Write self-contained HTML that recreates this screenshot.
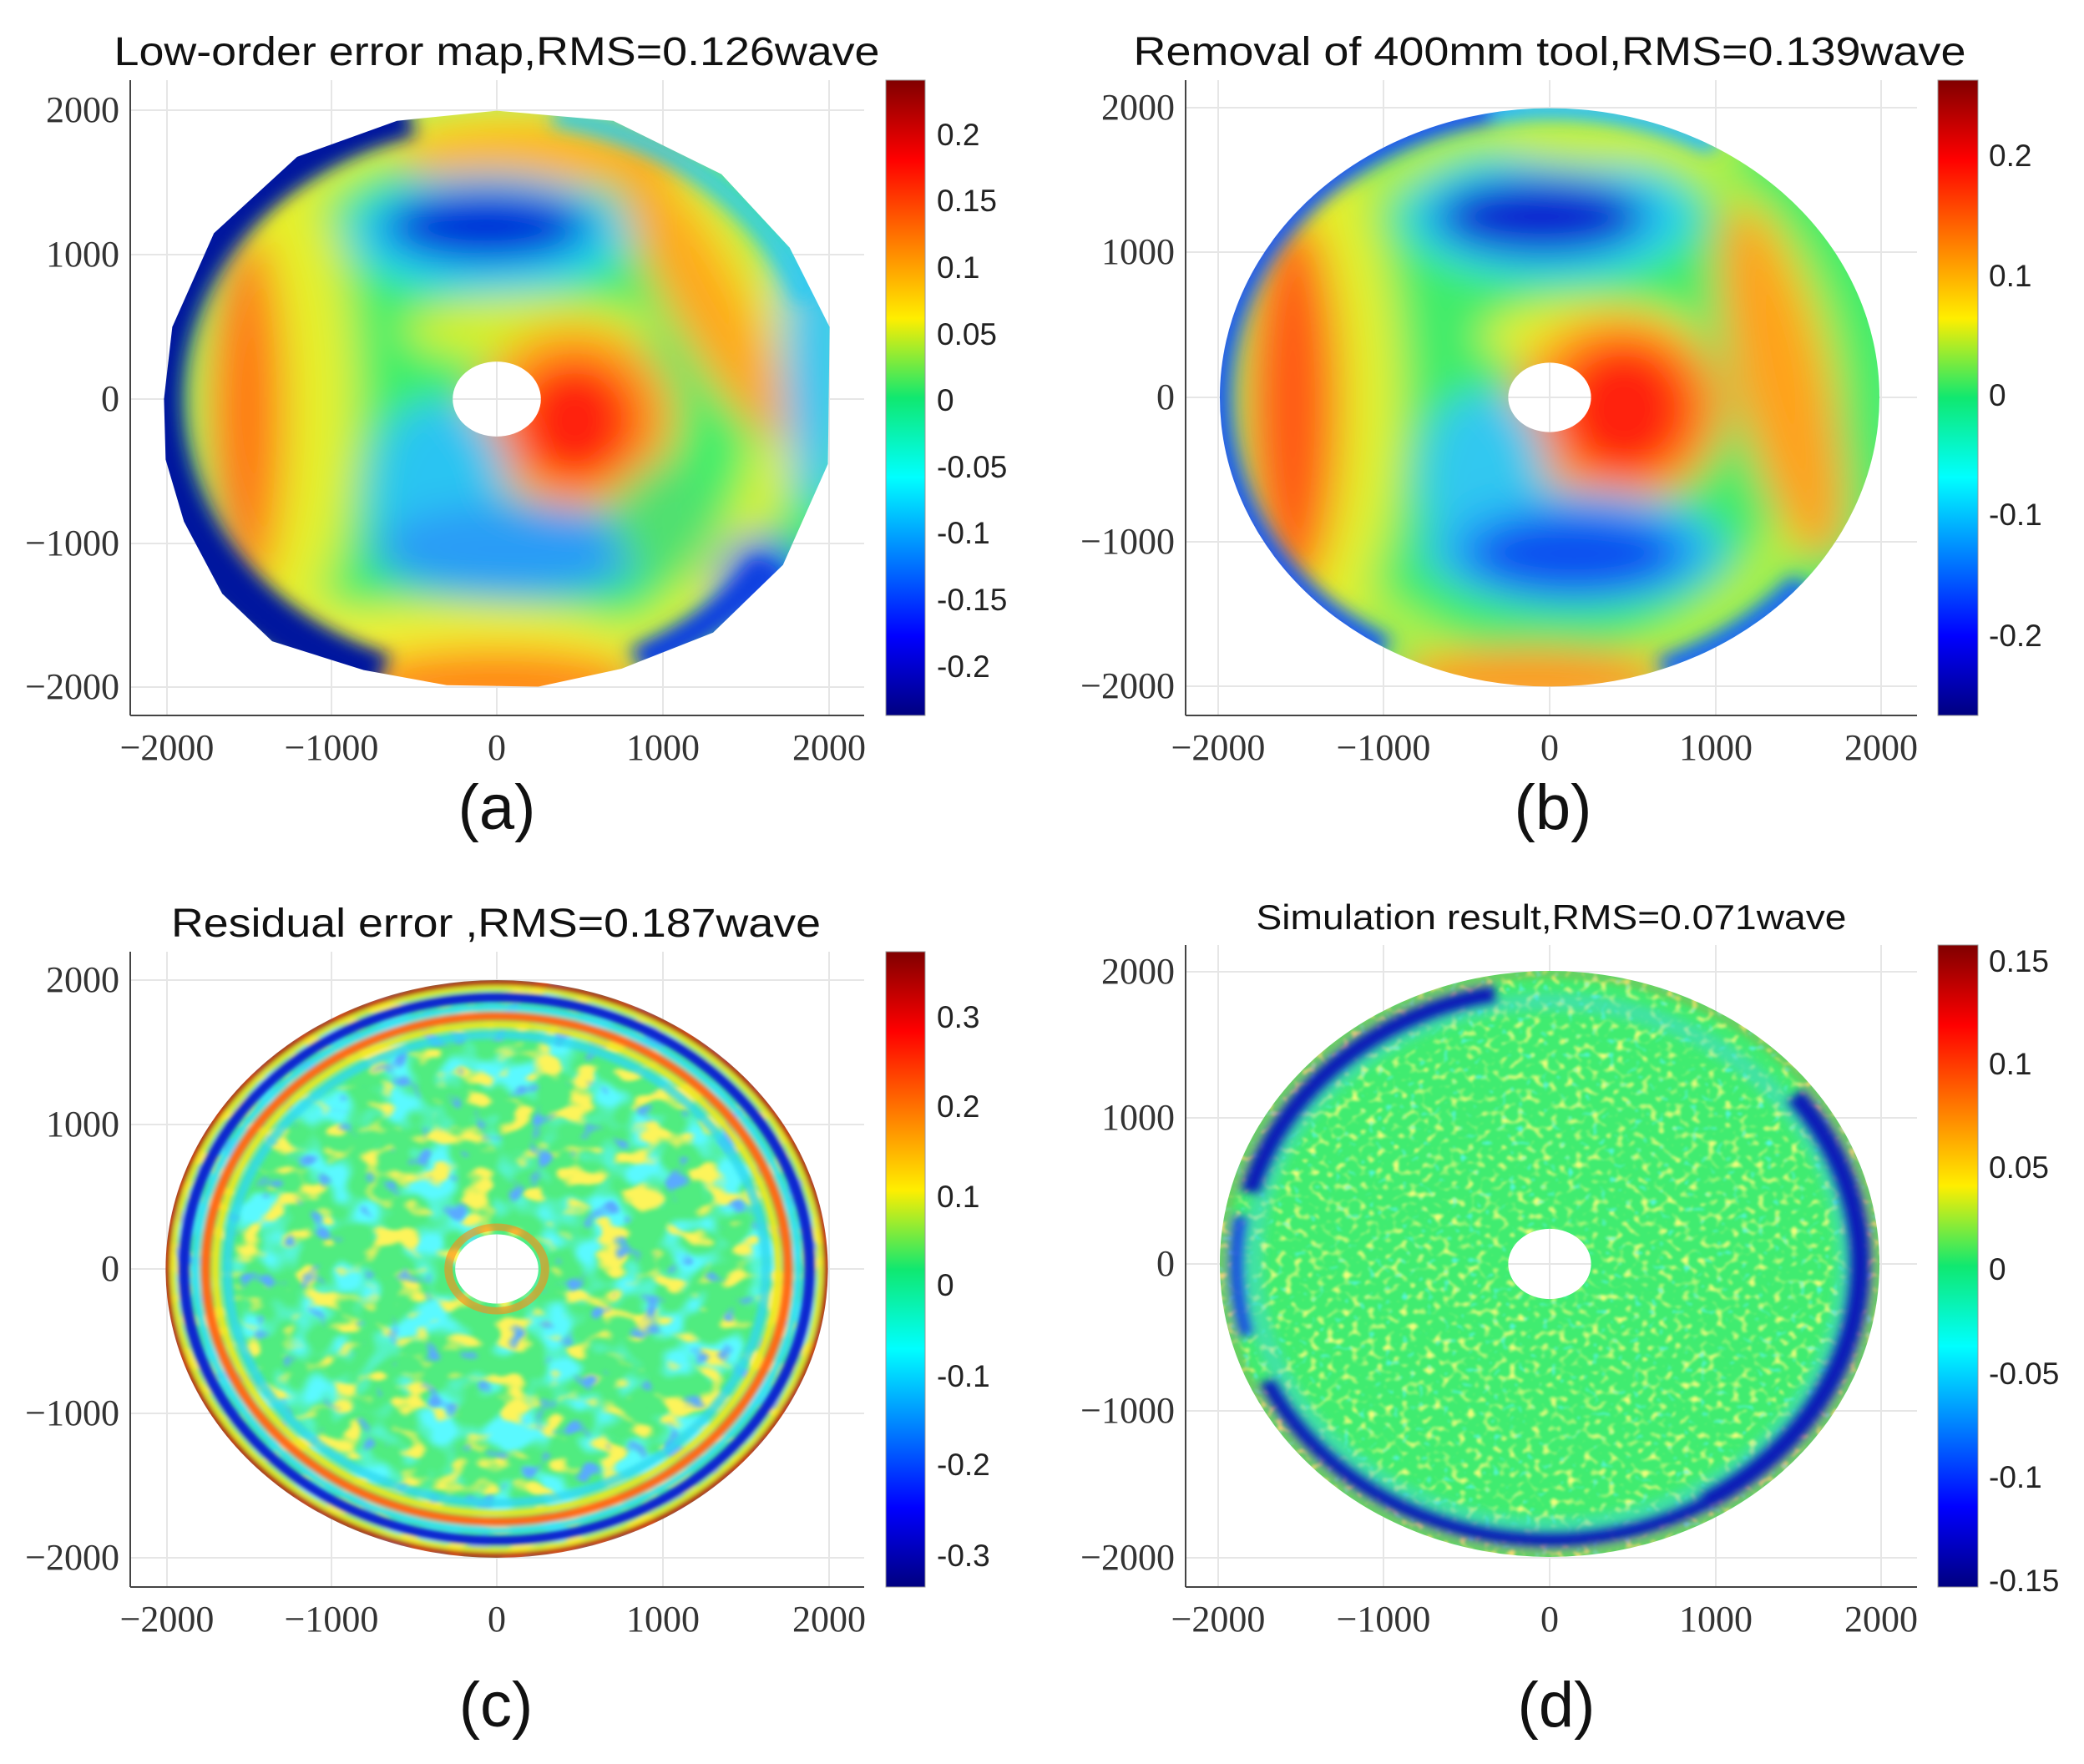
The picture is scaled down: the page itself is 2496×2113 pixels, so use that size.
<!DOCTYPE html>
<html><head><meta charset="utf-8"><style>
html,body{margin:0;padding:0;background:#fff;}
svg{display:block;}
.tk{font-family:"Liberation Serif",serif;font-size:44px;fill:#333;}
.cb{font-family:"Liberation Sans",sans-serif;font-size:37px;fill:#222;}
.tt{font-family:"Liberation Sans",sans-serif;font-size:48px;fill:#111;}
.lb{font-family:"Liberation Sans",sans-serif;font-size:76px;fill:#111;}
</style></head><body>
<svg width="2496" height="2113" viewBox="0 0 2496 2113" xmlns="http://www.w3.org/2000/svg">
<defs>
<linearGradient id="jet" x1="0" y1="0" x2="0" y2="1">
<stop offset="0" stop-color="#800000"/><stop offset="0.125" stop-color="#ff0000"/>
<stop offset="0.375" stop-color="#ffee00"/><stop offset="0.5" stop-color="#10e870"/>
<stop offset="0.625" stop-color="#00ffff"/><stop offset="0.875" stop-color="#0000ff"/>
<stop offset="1" stop-color="#000080"/></linearGradient>
<filter id="bl" filterUnits="userSpaceOnUse" x="-2600" y="-2600" width="5200" height="5200"><feGaussianBlur stdDeviation="130"/></filter>
<filter id="bl3" filterUnits="userSpaceOnUse" x="-2600" y="-2600" width="5200" height="5200"><feGaussianBlur stdDeviation="55"/></filter>
<filter id="bl2" filterUnits="userSpaceOnUse" x="-2600" y="-2600" width="5200" height="5200"><feGaussianBlur stdDeviation="15"/></filter>
<filter id="bl4" filterUnits="userSpaceOnUse" x="-2600" y="-2600" width="5200" height="5200"><feGaussianBlur stdDeviation="30"/></filter>
<filter id="nzY" filterUnits="userSpaceOnUse" x="-2100" y="-2100" width="4200" height="4200">
<feTurbulence type="fractalNoise" baseFrequency="0.005 0.007" numOctaves="2" seed="4"/>
<feColorMatrix type="matrix" values="0 0 0 0 0.98  0 0 0 0 0.9  0 0 0 0 0.1  7 0 0 0 -3.8"/>
<feGaussianBlur stdDeviation="12"/></filter>
<filter id="nzB" filterUnits="userSpaceOnUse" x="-2100" y="-2100" width="4200" height="4200">
<feTurbulence type="fractalNoise" baseFrequency="0.006" numOctaves="2" seed="11"/>
<feColorMatrix type="matrix" values="0 0 0 0 0.1  0 0 0 0 0.4  0 0 0 0 1  0 7 0 0 -4.4"/>
<feGaussianBlur stdDeviation="12"/></filter>
<filter id="nzC" filterUnits="userSpaceOnUse" x="-2100" y="-2100" width="4200" height="4200">
<feTurbulence type="fractalNoise" baseFrequency="0.004" numOctaves="2" seed="21"/>
<feColorMatrix type="matrix" values="0 0 0 0 0.1  0 0 0 0 0.95  0 0 0 0 1  0 0 5 0 -2.4"/>
<feGaussianBlur stdDeviation="15"/></filter>
<filter id="nzD" filterUnits="userSpaceOnUse" x="-2100" y="-2100" width="4200" height="4200">
<feTurbulence type="fractalNoise" baseFrequency="0.02" numOctaves="1" seed="7"/>
<feColorMatrix type="matrix" values="0 0 0 0 0.85  0 0 0 0 1  0 0 0 0 0.2  4 0 0 0 -2.1"/>
<feGaussianBlur stdDeviation="6"/></filter>
<filter id="nzE" filterUnits="userSpaceOnUse" x="-2100" y="-2100" width="4200" height="4200">
<feTurbulence type="fractalNoise" baseFrequency="0.02" numOctaves="1" seed="17"/>
<feColorMatrix type="matrix" values="0 0 0 0 0.1  0 0 0 0 0.95  0 0 0 0 0.9  0 4 0 0 -2.5"/>
<feGaussianBlur stdDeviation="6"/></filter>
<mask id="mA" maskUnits="userSpaceOnUse" x="-2200" y="-2200" width="4400" height="4400">
<polygon fill="#fff" points="-2000,0 -1990,-420 -1880,-850 -1650,-1350 -1350,-1680 -800,-1880 -300,-1985 250,-1995 750,-1870 1300,-1620 1720,-1150 1990,-450 2000,500 1760,1050 1350,1560 700,1930 0,2000 -600,1930 -1200,1680 -1700,1150 -1950,500"/>
<ellipse cx="0" cy="0" rx="265" ry="260" fill="#000"/></mask>
<mask id="mC" maskUnits="userSpaceOnUse" x="-2200" y="-2200" width="4400" height="4400">
<ellipse cx="0" cy="0" rx="1990" ry="2000" fill="#fff"/><ellipse cx="0" cy="0" rx="250" ry="240" fill="#000"/></mask>
</defs>
<rect width="2496" height="2113" fill="#fff"/>

<!-- ========== Panel A ========== -->
<g stroke="#e6e6e6" stroke-width="2">
<line x1="200" y1="96" x2="200" y2="857"/><line x1="397" y1="96" x2="397" y2="857"/><line x1="595" y1="96" x2="595" y2="857"/><line x1="794" y1="96" x2="794" y2="857"/><line x1="993" y1="96" x2="993" y2="857"/>
<line x1="156" y1="132" x2="1035" y2="132"/><line x1="156" y1="305" x2="1035" y2="305"/><line x1="156" y1="478" x2="1035" y2="478"/><line x1="156" y1="651" x2="1035" y2="651"/><line x1="156" y1="823" x2="1035" y2="823"/>
</g>
<g transform="translate(595,478) scale(0.1993,-0.1727)" mask="url(#mA)">
<g filter="url(#bl)">
<rect x="-2200" y="-2200" width="4400" height="4400" fill="#3cee6a"/>
<ellipse cx="0" cy="0" rx="1700" ry="1950" fill="none" stroke="#e6f02a" stroke-width="250"/>
<ellipse cx="-1300" cy="0" rx="450" ry="1600" fill="#e6f02a"/>
<ellipse cx="-1500" cy="-100" rx="220" ry="1250" fill="#ff7414"/>
<ellipse cx="300" cy="1700" rx="900" ry="220" fill="#ffb41c"/>
<ellipse cx="-50" cy="1150" rx="850" ry="420" fill="#24d0f0"/>
<ellipse cx="-60" cy="1200" rx="620" ry="250" fill="#0028d8"/>
<ellipse cx="200" cy="480" rx="750" ry="230" fill="#d6f02a"/>
<ellipse cx="1250" cy="700" rx="230" ry="1100" fill="#ffa81c" transform="rotate(25 1250 700)"/>
<ellipse cx="1920" cy="300" rx="200" ry="1100" fill="#30c4f4"/>
<ellipse cx="1600" cy="-1300" rx="260" ry="350" fill="#0a4ef0"/>
<ellipse cx="470" cy="-120" rx="600" ry="640" fill="#ffa21c"/>
<ellipse cx="470" cy="-150" rx="380" ry="430" fill="#ff2010"/>
<ellipse cx="-350" cy="-650" rx="420" ry="650" fill="#2ac4f2"/>
<ellipse cx="100" cy="-1050" rx="850" ry="320" fill="#2a9cf6"/>
<ellipse cx="1000" cy="-850" rx="300" ry="400" fill="#50e070"/>
<ellipse cx="-300" cy="-1650" rx="1100" ry="220" fill="#f0f030"/>
<ellipse cx="0" cy="-1980" rx="900" ry="250" fill="#ff8a12"/>
</g>
<g fill="none" filter="url(#bl3)">
<circle r="2050" stroke="#00149e" stroke-width="330" pathLength="360" stroke-dasharray="0 105 145 110"/>
<circle r="1990" stroke="#24c8f4" stroke-width="160" pathLength="360" stroke-dasharray="0 20 60 280" opacity="0.8"/>
<circle r="2000" stroke="#1040e0" stroke-width="200" pathLength="360" stroke-dasharray="0 295 30 35"/>
</g>
</g>
<rect x="1061" y="96" width="47" height="761" fill="url(#jet)" stroke="#999" stroke-width="1"/>
<g stroke="#444" stroke-width="2"><line x1="156" y1="96" x2="156" y2="857"/><line x1="156" y1="857" x2="1035" y2="857"/></g>
<g class="tk" text-anchor="middle">
<text x="200" y="910">−2000</text><text x="397" y="910">−1000</text><text x="595" y="910">0</text><text x="794" y="910">1000</text><text x="993" y="910">2000</text></g>
<g class="tk" text-anchor="end">
<text x="143" y="146">2000</text><text x="143" y="319">1000</text><text x="143" y="492">0</text><text x="143" y="665">−1000</text><text x="143" y="837">−2000</text></g>
<g class="cb">
<text x="1122" y="174">0.2</text><text x="1122" y="253">0.15</text><text x="1122" y="333">0.1</text><text x="1122" y="413">0.05</text><text x="1122" y="492">0</text><text x="1122" y="572">-0.05</text><text x="1122" y="651">-0.1</text><text x="1122" y="731">-0.15</text><text x="1122" y="811">-0.2</text></g>
<text class="tt" x="595" y="78" text-anchor="middle" textLength="917" lengthAdjust="spacingAndGlyphs">Low-order error map,RMS=0.126wave</text>
<text class="lb" x="595" y="993" text-anchor="middle">(a)</text>

<!-- ========== Panel B ========== -->
<g stroke="#e6e6e6" stroke-width="2">
<line x1="1459" y1="96" x2="1459" y2="857"/><line x1="1657" y1="96" x2="1657" y2="857"/><line x1="1856" y1="96" x2="1856" y2="857"/><line x1="2055" y1="96" x2="2055" y2="857"/><line x1="2253" y1="96" x2="2253" y2="857"/>
<line x1="1420" y1="129" x2="2296" y2="129"/><line x1="1420" y1="302" x2="2296" y2="302"/><line x1="1420" y1="476" x2="2296" y2="476"/><line x1="1420" y1="649" x2="2296" y2="649"/><line x1="1420" y1="822" x2="2296" y2="822"/>
</g>
<g transform="translate(1856,476) scale(0.1985,-0.1732)" mask="url(#mC)">
<g filter="url(#bl)">
<rect x="-2200" y="-2200" width="4400" height="4400" fill="#40ec6a"/>
<ellipse cx="0" cy="0" rx="1650" ry="1900" fill="none" stroke="#c8f030" stroke-width="200"/>
<ellipse cx="-1400" cy="0" rx="500" ry="1650" fill="#e4f02c"/>
<ellipse cx="-1550" cy="-50" rx="280" ry="1300" fill="#ff5a14"/>
<ellipse cx="0" cy="1250" rx="880" ry="430" fill="#28d0f2"/>
<ellipse cx="-50" cy="1250" rx="640" ry="270" fill="#0a1ed0"/>
<ellipse cx="400" cy="1800" rx="800" ry="200" fill="#c8f030"/>
<ellipse cx="1400" cy="100" rx="280" ry="1250" fill="#ffa21c" transform="rotate(12 1400 100)"/>
<ellipse cx="250" cy="420" rx="650" ry="250" fill="#e6f02a"/>
<ellipse cx="420" cy="-80" rx="640" ry="660" fill="#ff9a1c"/>
<ellipse cx="450" cy="-80" rx="420" ry="470" fill="#ff2010"/>
<ellipse cx="-400" cy="-550" rx="380" ry="600" fill="#30c8f0"/>
<ellipse cx="150" cy="-1050" rx="900" ry="400" fill="#28b8f4"/>
<ellipse cx="150" cy="-1080" rx="650" ry="280" fill="#0a50f0"/>
<ellipse cx="-100" cy="-1950" rx="850" ry="220" fill="#ff9a1c"/>
</g>
<g fill="none" filter="url(#bl3)">
<circle r="2030" stroke="#1a5af0" stroke-width="220" pathLength="360" stroke-dasharray="0 95 145 120"/>
<circle r="2000" stroke="#30c0f4" stroke-width="150" pathLength="360" stroke-dasharray="0 60 40 260"/>
<circle r="2000" stroke="#1a6af0" stroke-width="180" pathLength="360" stroke-dasharray="0 290 30 40"/>
</g>
</g>
<rect x="2321" y="96" width="48" height="761" fill="url(#jet)" stroke="#999" stroke-width="1"/>
<g stroke="#444" stroke-width="2"><line x1="1420" y1="96" x2="1420" y2="857"/><line x1="1420" y1="857" x2="2296" y2="857"/></g>
<g class="tk" text-anchor="middle">
<text x="1459" y="910">−2000</text><text x="1657" y="910">−1000</text><text x="1856" y="910">0</text><text x="2055" y="910">1000</text><text x="2253" y="910">2000</text></g>
<g class="tk" text-anchor="end">
<text x="1407" y="143">2000</text><text x="1407" y="316">1000</text><text x="1407" y="490">0</text><text x="1407" y="663">−1000</text><text x="1407" y="836">−2000</text></g>
<g class="cb">
<text x="2382" y="199">0.2</text><text x="2382" y="343">0.1</text><text x="2382" y="486">0</text><text x="2382" y="629">-0.1</text><text x="2382" y="774">-0.2</text></g>
<text class="tt" x="1856" y="78" text-anchor="middle" textLength="997" lengthAdjust="spacingAndGlyphs">Removal of 400mm tool,RMS=0.139wave</text>
<text class="lb" x="1860" y="993" text-anchor="middle">(b)</text>

<!-- ========== Panel C ========== -->
<g stroke="#e6e6e6" stroke-width="2">
<line x1="200" y1="1140" x2="200" y2="1901"/><line x1="397" y1="1140" x2="397" y2="1901"/><line x1="595" y1="1140" x2="595" y2="1901"/><line x1="794" y1="1140" x2="794" y2="1901"/><line x1="993" y1="1140" x2="993" y2="1901"/>
<line x1="156" y1="1174" x2="1035" y2="1174"/><line x1="156" y1="1347" x2="1035" y2="1347"/><line x1="156" y1="1520" x2="1035" y2="1520"/><line x1="156" y1="1693" x2="1035" y2="1693"/><line x1="156" y1="1866" x2="1035" y2="1866"/>
</g>
<g transform="translate(595,1520) scale(0.1993,-0.1730)" mask="url(#mC)">
<rect x="-2100" y="-2100" width="4200" height="4200" fill="#50ec80"/>
<rect x="-2100" y="-2100" width="4200" height="4200" filter="url(#nzC)"/>
<rect x="-2100" y="-2100" width="4200" height="4200" filter="url(#nzY)"/>
<rect x="-2100" y="-2100" width="4200" height="4200" filter="url(#nzB)"/>
<g fill="none" filter="url(#bl2)">
<circle r="1985" stroke="#c00808" stroke-width="40"/>
<circle r="1945" stroke="#f0e820" stroke-width="30"/>
<circle r="1880" stroke="#0a28d0" stroke-width="70"/>
<circle r="1810" stroke="#30e0f0" stroke-width="40"/>
<circle r="1750" stroke="#ff6a14" stroke-width="60"/>
<circle r="1690" stroke="#f0e820" stroke-width="40"/>
<circle r="1620" stroke="#30d8f0" stroke-width="60" opacity="0.8"/>
</g>
<circle r="290" fill="none" stroke="#ff8a14" stroke-width="50" opacity="0.6"/>
</g>
<rect x="1061" y="1140" width="47" height="761" fill="url(#jet)" stroke="#999" stroke-width="1"/>
<g stroke="#444" stroke-width="2"><line x1="156" y1="1140" x2="156" y2="1901"/><line x1="156" y1="1901" x2="1035" y2="1901"/></g>
<g class="tk" text-anchor="middle">
<text x="200" y="1954">−2000</text><text x="397" y="1954">−1000</text><text x="595" y="1954">0</text><text x="794" y="1954">1000</text><text x="993" y="1954">2000</text></g>
<g class="tk" text-anchor="end">
<text x="143" y="1188">2000</text><text x="143" y="1361">1000</text><text x="143" y="1534">0</text><text x="143" y="1707">−1000</text><text x="143" y="1880">−2000</text></g>
<g class="cb">
<text x="1122" y="1231">0.3</text><text x="1122" y="1338">0.2</text><text x="1122" y="1446">0.1</text><text x="1122" y="1552">0</text><text x="1122" y="1661">-0.1</text><text x="1122" y="1767">-0.2</text><text x="1122" y="1876">-0.3</text></g>
<text class="tt" x="594" y="1122" text-anchor="middle" textLength="778" lengthAdjust="spacingAndGlyphs">Residual error ,RMS=0.187wave</text>
<text class="lb" x="594" y="2068" text-anchor="middle">(c)</text>

<!-- ========== Panel D ========== -->
<g stroke="#e6e6e6" stroke-width="2">
<line x1="1459" y1="1132" x2="1459" y2="1901"/><line x1="1657" y1="1132" x2="1657" y2="1901"/><line x1="1856" y1="1132" x2="1856" y2="1901"/><line x1="2055" y1="1132" x2="2055" y2="1901"/><line x1="2253" y1="1132" x2="2253" y2="1901"/>
<line x1="1420" y1="1164" x2="2296" y2="1164"/><line x1="1420" y1="1339" x2="2296" y2="1339"/><line x1="1420" y1="1514" x2="2296" y2="1514"/><line x1="1420" y1="1690" x2="2296" y2="1690"/><line x1="1420" y1="1866" x2="2296" y2="1866"/>
</g>
<g transform="translate(1856,1514) scale(0.1985,-0.1755)" mask="url(#mC)">
<rect x="-2100" y="-2100" width="4200" height="4200" fill="#40ec70"/>
<rect x="-2100" y="-2100" width="4200" height="4200" filter="url(#nzD)"/>
<rect x="-2100" y="-2100" width="4200" height="4200" filter="url(#nzE)"/>
<g fill="none" filter="url(#bl4)">
<circle r="1790" stroke="#40d8e0" stroke-width="120" opacity="0.45"/>
<circle r="1870" stroke="#0a1eb8" stroke-width="130" pathLength="360" stroke-dasharray="0 100 65 195"/>
<circle r="1870" stroke="#0a1eb8" stroke-width="140" pathLength="360" stroke-dasharray="38 262 60 0"/>
<circle r="1880" stroke="#0a1eb8" stroke-width="110" pathLength="360" stroke-dasharray="0 205 95 60"/>
<circle r="1890" stroke="#1a50e0" stroke-width="90" pathLength="360" stroke-dasharray="0 170 25 165"/>
<circle r="1985" stroke="#ff6020" stroke-width="25" opacity="0.6"/>
</g>
</g>
<rect x="2321" y="1132" width="48" height="769" fill="url(#jet)" stroke="#999" stroke-width="1"/>
<g stroke="#444" stroke-width="2"><line x1="1420" y1="1132" x2="1420" y2="1901"/><line x1="1420" y1="1901" x2="2296" y2="1901"/></g>
<g class="tk" text-anchor="middle">
<text x="1459" y="1954">−2000</text><text x="1657" y="1954">−1000</text><text x="1856" y="1954">0</text><text x="2055" y="1954">1000</text><text x="2253" y="1954">2000</text></g>
<g class="tk" text-anchor="end">
<text x="1407" y="1178">2000</text><text x="1407" y="1353">1000</text><text x="1407" y="1528">0</text><text x="1407" y="1704">−1000</text><text x="1407" y="1880">−2000</text></g>
<g class="cb">
<text x="2382" y="1164">0.15</text><text x="2382" y="1287">0.1</text><text x="2382" y="1411">0.05</text><text x="2382" y="1533">0</text><text x="2382" y="1658">-0.05</text><text x="2382" y="1782">-0.1</text><text x="2382" y="1906">-0.15</text></g>
<text class="tt" x="1858" y="1113" text-anchor="middle" textLength="707" lengthAdjust="spacingAndGlyphs" style="font-size:42px">Simulation result,RMS=0.071wave</text>
<text class="lb" x="1864" y="2068" text-anchor="middle">(d)</text>
</svg>
</body></html>
